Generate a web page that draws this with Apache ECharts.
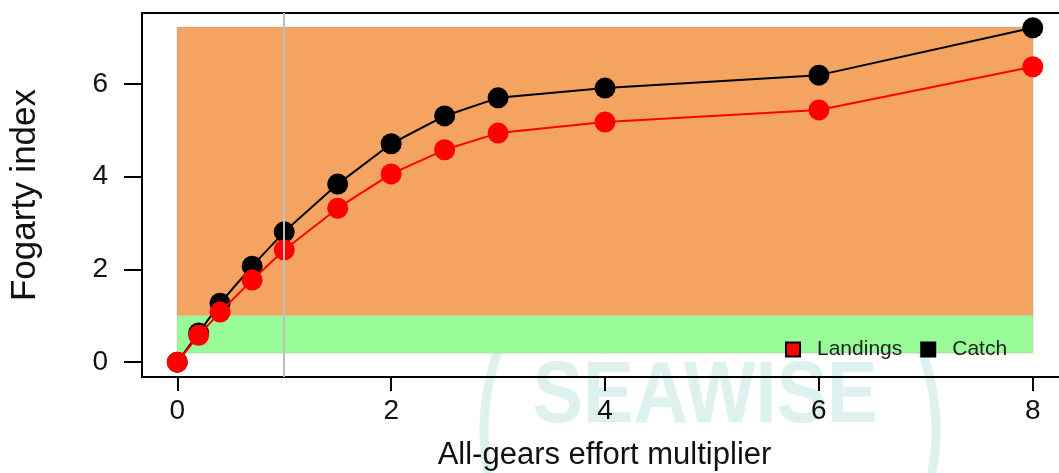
<!DOCTYPE html>
<html>
<head>
<meta charset="utf-8">
<script src="https://cdn.jsdelivr.net/npm/echarts@6/dist/echarts.min.js"></script>
<style>
  html, body { margin: 0; padding: 0; background: #fff; }
  #chart { width: 1059px; height: 473px; }
</style>
</head>
<body>
<div id="chart"></div>
<script>
// effort multipliers
var effort = [0, 0.2, 0.4, 0.7, 1, 1.5, 2, 2.5, 3, 4, 6, 8];
var catchIdx = [0, 0.63, 1.27, 2.07, 2.81, 3.84, 4.71, 5.31, 5.70, 5.91, 6.19, 7.21];
var landingsIdx = [0, 0.58, 1.08, 1.77, 2.42, 3.32, 4.06, 4.58, 4.94, 5.18, 5.44, 6.37];
var xTicks = [0, 2, 4, 6, 8];
var yTicks = [0, 2, 4, 6];
// reference bands
var greenBand = [0.2, 1];
var orangeBand = [1, 7.22];
var refEffort = 1;

function pairs(xs, ys) {
    return xs.map(function (x, i) { return [x, ys[i]]; });
}

var font = "'Liberation Sans', Arial, sans-serif";
var myChart = echarts.init(document.getElementById('chart'));

var option = {
    animation: false,
    graphic: [
        {
            type: 'circle',
            z: -100,
            shape: { cx: 710, cy: 430, r: 226 },
            style: { fill: null, stroke: '#ddf1ee', lineWidth: 9 }
        },
        {
            type: 'text',
            z: -100,
            x: 705, y: 398,
            scaleX: 0.86,
            style: {
                text: 'SEAWISE', fill: '#ddf1ee',
                font: 'bold 88px ' + font,
                align: 'center', verticalAlign: 'middle'
            }
        }
    ],
    grid: {
        left: 142, top: 13, width: 925, height: 364,
        outerBoundsMode: 'none',
        containLabel: false,
        show: true, borderColor: '#000', borderWidth: 2, backgroundColor: 'transparent'
    },
    legend: {
        left: 780, top: 334,
        icon: 'rect',
        itemWidth: 14, itemHeight: 14,
        itemGap: 18,
        textStyle: { fontFamily: font, fontSize: 21, color: '#222', padding: [0, 0, 0, 12] },
        data: [
            { name: 'Landings', itemStyle: { color: '#ff0000', borderColor: '#000', borderWidth: 2 } },
            { name: 'Catch', itemStyle: { color: '#000', borderColor: '#000', borderWidth: 2 } }
        ]
    },
    xAxis: {
        type: 'value',
        min: -0.33, max: 8.32,
        name: 'All-gears effort multiplier',
        nameLocation: 'middle',
        nameGap: 63,
        nameTextStyle: { fontFamily: font, fontSize: 31, color: '#111' },
        splitLine: { show: false },
        axisLine: { show: true, onZero: false, lineStyle: { color: '#000', width: 2 } },
        axisTick: { show: true, length: 14, customValues: xTicks, lineStyle: { color: '#000', width: 2 } },
        axisLabel: { customValues: xTicks, margin: 20, fontFamily: font, fontSize: 28, color: '#111' }
    },
    yAxis: {
        type: 'value',
        min: -0.32, max: 7.53,
        name: 'Fogarty index',
        nameLocation: 'middle',
        nameGap: 99,
        nameTextStyle: { fontFamily: font, fontSize: 35, color: '#111' },
        splitLine: { show: false },
        axisLine: { show: true, onZero: false, lineStyle: { color: '#000', width: 2 } },
        axisTick: { show: true, length: 18, customValues: yTicks, lineStyle: { color: '#000', width: 2 } },
        axisLabel: { customValues: yTicks, margin: 34, fontFamily: font, fontSize: 28, color: '#111' }
    },
    series: [
        {
            name: 'bands',
            type: 'line',
            data: [],
            z: 1,
            markArea: {
                silent: true,
                data: [
                    [{ xAxis: 0, yAxis: orangeBand[0], itemStyle: { color: '#f4a460', borderColor: '#c9a488', borderWidth: 1 } },
                     { xAxis: 8, yAxis: orangeBand[1] }],
                    [{ xAxis: 0, yAxis: greenBand[0], itemStyle: { color: '#98fb98', borderColor: '#b6d9a6', borderWidth: 1 } },
                     { xAxis: 8, yAxis: greenBand[1] }]
                ]
            }
        },
        {
            name: 'Catch',
            type: 'line',
            data: pairs(effort, catchIdx),
            z: 3,
            symbol: 'circle',
            symbolSize: 21,
            showAllSymbol: true,
            lineStyle: { color: '#000', width: 2 },
            itemStyle: { color: '#000' }
        },
        {
            name: 'Landings',
            type: 'line',
            data: pairs(effort, landingsIdx),
            z: 4,
            symbol: 'circle',
            symbolSize: 21,
            showAllSymbol: true,
            lineStyle: { color: '#ff0000', width: 2 },
            itemStyle: { color: '#ff0000' }
        },
        {
            name: 'ref',
            type: 'line',
            data: [],
            z: 6,
            markLine: {
                silent: true,
                symbol: 'none',
                label: { show: false },
                lineStyle: { color: '#bebebe', width: 2, type: 'solid' },
                data: [{ xAxis: refEffort }]
            }
        }
    ]
};

myChart.setOption(option);
</script>
</body>
</html>
